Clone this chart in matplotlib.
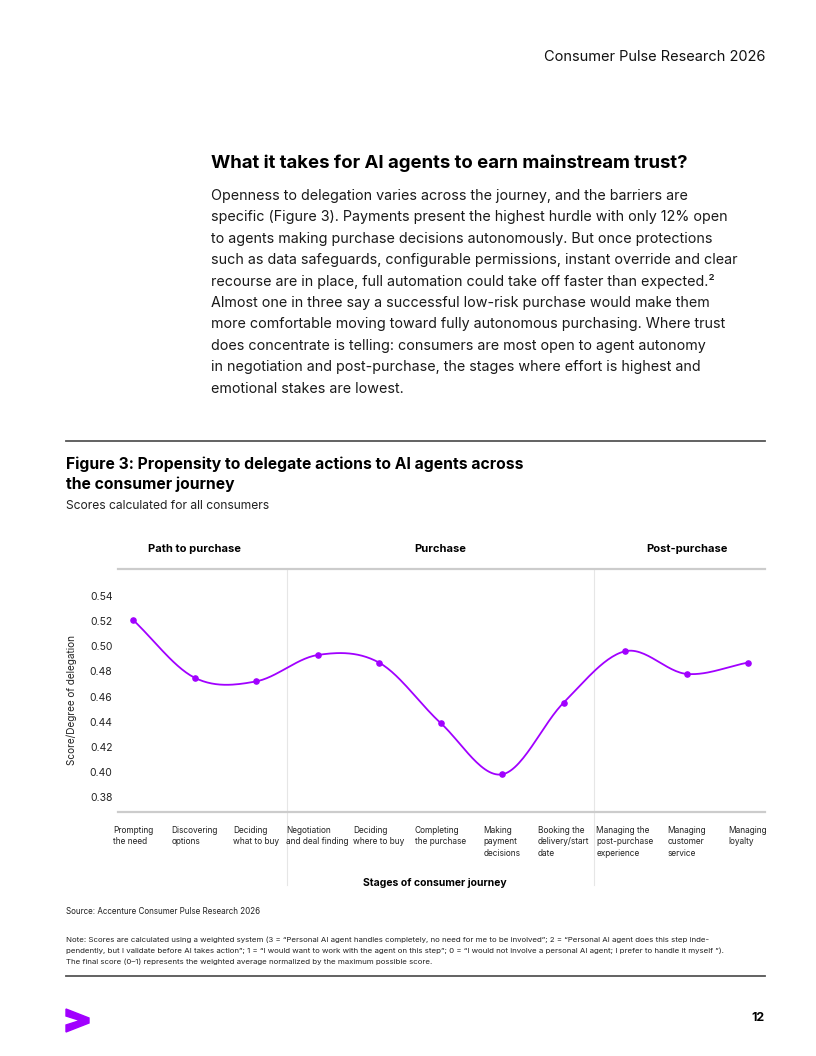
import numpy as np
import matplotlib
matplotlib.use('Agg')
import matplotlib.pyplot as plt
from matplotlib.patches import Polygon
from matplotlib.lines import Line2D
import matplotlib.transforms as mtransforms

plt.rcParams['font.family'] = ['Inter', 'DejaVu Sans']

# 数据
stages = ['Prompting\nthe need', 'Discovering\noptions', 'Deciding\nwhat to buy',
          'Negotiation\nand deal finding', 'Deciding\nwhere to buy', 'Completing\nthe purchase',
          'Making\npayment\ndecisions', 'Booking the\ndelivery/start\ndate',
          'Managing the\npost-purchase\nexperience', 'Managing\ncustomer\nservice', 'Managing\nloyalty']
scores = [0.521, 0.475, 0.472, 0.493, 0.487, 0.439, 0.398, 0.455, 0.496, 0.478, 0.487]
groups = ['Path to purchase', 'Purchase', 'Post-purchase']
group_sizes = [3, 5, 3]
yticks = [0.38, 0.40, 0.42, 0.44, 0.46, 0.48, 0.50, 0.52, 0.54]

paragraph = [
    "Openness to delegation varies across the journey, and the barriers are",
    "specific (Figure 3). Payments present the highest hurdle with only 12% open",
    "to agents making purchase decisions autonomously. But once protections",
    "such as data safeguards, configurable permissions, instant override and clear",
    "recourse are in place, full automation could take off faster than expected.\u00b2",
    "Almost one in three say a successful low-risk purchase would make them",
    "more comfortable moving toward fully autonomous purchasing. Where trust",
    "does concentrate is telling: consumers are most open to agent autonomy",
    "in negotiation and post-purchase, the stages where effort is highest and",
    "emotional stakes are lowest.",
]
note_lines = [
    "Note: Scores are calculated using a weighted system (3 = \u201cPersonal AI agent handles completely, no need for me to be involved\u201d; 2 = \u201cPersonal AI agent does this step inde-",
    "pendently, but I validate before AI takes action\u201d; 1 = \u201cI would want to work with the agent on this step\u201d; 0 = \u201cI would not involve a personal AI agent; I prefer to handle it myself \u201d).",
    "The final score (0\u20131) represents the weighted average normalized by the maximum possible score.",
]

PURPLE = '#A100FF'
W, H = 816, 1056


def fx(px):
    return px / W


def fy(py):
    return 1 - py / H


fig = plt.figure(figsize=(8.16, 10.56), dpi=100)

# 页眉
fig.text(fx(765), fy(57), 'Consumer Pulse Research 2026', ha='right', va='center',
         fontsize=10.5, color='#111111')

# 标题与正文
fig.text(fx(211), fy(163), 'What it takes for AI agents to earn mainstream trust?',
         ha='left', va='center', fontsize=13.4, fontweight='bold', color='#000000')
for i, line in enumerate(paragraph):
    fig.text(fx(211), fy(196 + i * 21.4), line, ha='left', va='center',
             fontsize=10.3, color='#1a1a1a')

# 分隔线
fig.add_artist(Line2D([fx(66), fx(765)], [fy(441), fy(441)], color='#555555', lw=1.3))
fig.add_artist(Line2D([fx(66), fx(765)], [fy(976), fy(976)], color='#555555', lw=1.3))

fig.text(fx(66), fy(464), 'Figure 3: Propensity to delegate actions to AI agents across',
         ha='left', va='center', fontsize=11.3, fontweight='bold')
fig.text(fx(66), fy(484), 'the consumer journey', ha='left', va='center',
         fontsize=11.3, fontweight='bold')
fig.text(fx(66), fy(506), 'Scores calculated for all consumers', ha='left', va='center',
         fontsize=8.7, color='#222222')

# 主图
ax = fig.add_axes([fx(118), fy(812), fx(765) - fx(118), fy(569) - fy(812)])
x = np.arange(len(scores))
y = np.array(scores)

# Catmull-Rom 平滑曲线
pts_x, pts_y = [], []
yp = np.concatenate([[2 * y[0] - y[1]], y, [2 * y[-1] - y[-2]]])
t = np.linspace(0, 1, 30)
for i in range(len(y) - 1):
    p0, p1, p2, p3 = yp[i], yp[i + 1], yp[i + 2], yp[i + 3]
    seg = 0.5 * ((2 * p1) + (-p0 + p2) * t + (2 * p0 - 5 * p1 + 4 * p2 - p3) * t ** 2
                 + (-p0 + 3 * p1 - 3 * p2 + p3) * t ** 3)
    pts_x.append(x[i] + t)
    pts_y.append(seg)
ax.plot(np.concatenate(pts_x), np.concatenate(pts_y), color=PURPLE, lw=1.3, zorder=3)
ax.scatter(x, y, s=14, color=PURPLE, zorder=4)

ax.set_xlim(-15 / 61.5, 10 + 17 / 61.5)
unit = 0.16 / 201
ax.set_ylim(0.38 - 15 * unit, 0.54 + 27 * unit)
ax.set_yticks(yticks)
ax.set_yticklabels([f'{v:.2f}' for v in yticks])
ax.tick_params(axis='y', length=0, pad=4, labelsize=7.5, labelcolor='#222222')
ax.set_xticks([])
for s in ['left', 'right']:
    ax.spines[s].set_visible(False)
for s in ['top', 'bottom']:
    ax.spines[s].set_color('#cccccc')
    ax.spines[s].set_linewidth(1.6)
ax.patch.set_alpha(0)

# 分组竖线
bounds = np.cumsum(group_sizes)[:-1] - 0.5
for b in bounds:
    ax.axvline(b, ymin=-0.30, ymax=1, color='#e6e6e6', lw=0.8, clip_on=False, zorder=0)

trans = mtransforms.blended_transform_factory(ax.transData, ax.transAxes)
start = 0
for g, n in zip(groups, group_sizes):
    ax.text(start + (n - 1) / 2, 1 + 20 / 243, g, transform=trans, ha='center', va='center',
            fontsize=8, fontweight='bold')
    start += n

for xi, lab in zip(x, stages):
    ax.text(xi, -14 / 243, lab, transform=trans, ha='center', va='top', multialignment='left',
            fontsize=6, color='#222222', linespacing=1.35)

fig.text(fx(72), fy(700), 'Score/Degree of delegation', rotation=90, ha='center', va='center',
         fontsize=7.2, color='#222222')
fig.text(fx(435), fy(883), 'Stages of consumer journey', ha='center', va='center',
         fontsize=7.5, fontweight='bold')

# 来源与注释
fig.text(fx(66), fy(911), 'Source: Accenture Consumer Pulse Research 2026', ha='left', va='center',
         fontsize=5.8, color='#222222')
for i, line in enumerate(note_lines):
    fig.text(fx(66), fy(940 + i * 11), line, ha='left', va='center', fontsize=5.65, color='#222222')

# 页脚
logo = [(66, 1009), (89, 1018), (89, 1023), (66, 1032), (66, 1025), (80, 1020.5), (66, 1016)]
fig.add_artist(Polygon([(fx(a), fy(b)) for a, b in logo], closed=True, color=PURPLE,
                       transform=fig.transFigure))
fig.text(fx(765), fy(1018), '12', ha='right', va='center', fontsize=9, fontweight='bold')

plt.savefig('out.png', dpi=100)
